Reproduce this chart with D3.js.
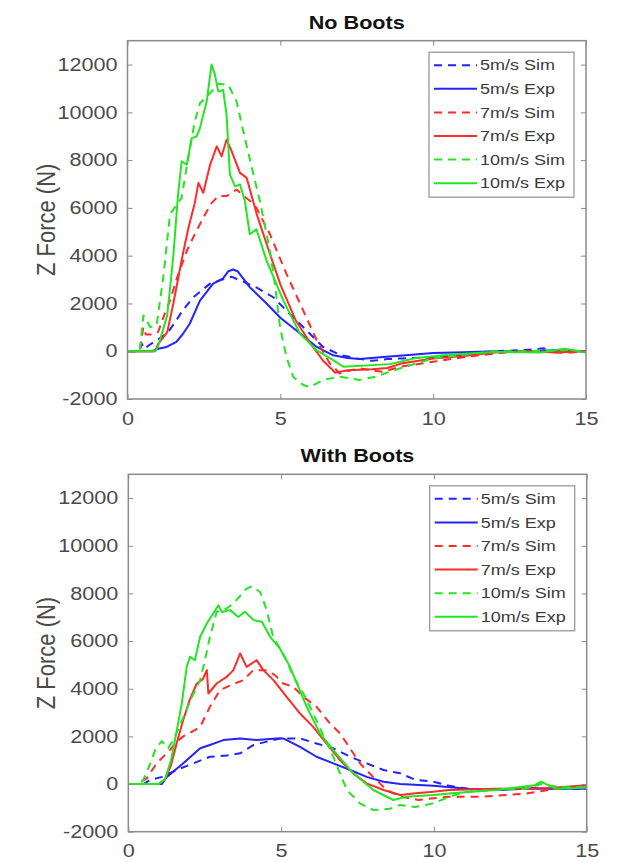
<!DOCTYPE html>
<html>
<head>
<meta charset="utf-8">
<script src="https://cdn.jsdelivr.net/npm/d3@7"></script>
<style>
  body { margin: 0; background: #fff; }
  svg { display: block; font-family: "Liberation Sans", Arial, sans-serif; }
</style>
</head>
<body>
<div id="chart"></div>
<script>
// axis ticks and labels
const xTicks = [0, 5, 10, 15];
const yTicks = [-2000, 0, 2000, 4000, 6000, 8000, 10000, 12000];
const legendLabels = ['5m/s Sim', '5m/s Exp', '7m/s Sim', '7m/s Exp', '10m/s Sim', '10m/s Exp'];
const panelTitles = ['No Boots', 'With Boots'];

// No Boots, [time, Z force]
const noBoots5Sim = [[0,0],[0.3,0],[0.42,100],[0.46,330],[0.55,100],[0.7,250],[1.0,500],[1.3,750],[1.6,1300],[1.8,1700],[2.15,2260],[2.7,2830],[3.1,3000],[3.4,3120],[3.8,2900],[4.23,2660],[4.77,2260],[5.2,1700],[5.86,870],[6.4,180],[6.95,-150],[7.5,-300],[8.0,-400],[8.5,-330],[9.0,-300],[10.0,-250],[11.0,-150],[12.0,0],[13.0,50],[13.6,120],[14.2,0],[15,0]];
const noBoots5Exp = [[0,0],[0.8,0],[1.0,100],[1.28,180],[1.6,390],[1.8,700],[2.04,1160],[2.37,2120],[2.8,2830],[3.12,3040],[3.3,3350],[3.45,3420],[3.6,3350],[4.0,2680],[4.55,2000],[5.0,1400],[5.64,750],[6.19,180],[6.73,-170],[7.2,-280],[7.6,-330],[8.36,-240],[9.0,-180],[10.0,-70],[11.0,-40],[12.0,0],[13.0,0],[14.0,40],[15,0]];
const noBoots7Sim = [[0,0],[0.4,0],[0.52,1010],[0.6,700],[0.8,700],[1.0,800],[1.2,1500],[1.39,2120],[1.6,3000],[1.94,4200],[2.2,4900],[2.48,5590],[2.75,6200],[2.97,6495],[3.24,6495],[3.57,6770],[3.8,6500],[4.0,6300],[4.22,6000],[4.66,4900],[5.2,3240],[5.75,1700],[6.19,460],[6.62,-510],[6.95,-930],[7.3,-800],[7.6,-720],[8.0,-800],[8.36,-860],[8.91,-650],[10.0,-440],[11.1,-230],[12.2,-70],[13.3,0],[14.4,-70],[15,0]];
const noBoots7Exp = [[0,0],[0.9,0],[1.0,300],[1.3,800],[1.5,2000],[1.8,4000],[2.0,5200],[2.2,6200],[2.32,7050],[2.48,6630],[2.7,7800],[2.92,8576],[3.08,8160],[3.24,8855],[3.4,8400],[3.68,7465],[3.9,7256],[4.23,5730],[4.6,4300],[5.0,2800],[5.5,1300],[6.0,300],[6.4,-400],[6.8,-900],[7.2,-800],[8.0,-750],[8.5,-700],[9.0,-500],[10.0,-300],[11.0,-200],[12.0,-50],[13.0,0],[14.0,-50],[15,0]];
const noBoots10Sim = [[0,0],[0.4,0],[0.52,1500],[0.74,1010],[0.95,1080],[1.17,3090],[1.39,5730],[1.77,6420],[2.0,8200],[2.2,9620],[2.37,10380],[2.7,10800],[2.97,11200],[3.3,11150],[3.57,10450],[3.84,8920],[4.12,7400],[4.33,6290],[4.66,4200],[4.82,2820],[4.99,1010],[5.2,-240],[5.42,-1070],[5.75,-1415],[5.97,-1500],[6.4,-1200],[6.95,-1070],[7.6,-1200],[8.1,-1070],[8.9,-720],[10.0,-300],[11.0,-150],[12.0,0],[13.0,0],[14.5,50],[15,-50]];
const noBoots10Exp = [[0,0],[0.9,0],[1.0,200],[1.3,1500],[1.5,4000],[1.65,6500],[1.77,7950],[1.94,7810],[2.1,8920],[2.26,8990],[2.37,9340],[2.59,10450],[2.75,12000],[2.86,11580],[2.97,10870],[3.13,10935],[3.24,9900],[3.35,7400],[3.52,6900],[3.68,6980],[3.84,6290],[4.0,4900],[4.22,5100],[4.55,3790],[5.1,2120],[5.64,740],[6.19,40],[6.73,-375],[7.06,-650],[8.59,-540],[9.4,-290],[10.5,-150],[12.0,-30],[13.5,-50],[14.3,100],[15,-50]];

// With Boots, [time, Z force]
const withBoots5Sim = [[0,0],[0.5,0],[0.71,170],[1.1,300],[1.58,590],[2.13,870],[2.67,1145],[3.22,1200],[3.66,1290],[4.09,1635],[4.53,1780],[4.96,1915],[5.62,1915],[6.16,1700],[6.71,1500],[7.26,1145],[7.8,870],[8.35,590],[8.9,450],[9.4,170],[9.98,100],[10.5,-70],[11.1,-200],[12.0,-250],[13.0,-150],[14.0,-200],[15,-200]];
const withBoots5Exp = [[0,0],[1.1,0],[1.26,300],[1.8,870],[2.35,1500],[2.67,1640],[3.11,1845],[3.66,1915],[4.2,1845],[4.85,1915],[5.07,1915],[5.62,1560],[6.16,1145],[6.71,870],[7.26,590],[7.8,300],[8.35,100],[8.9,0],[9.98,-70],[11.1,-200],[12.0,-250],[13.0,-200],[14.0,-200],[15,-200]];
const withBoots7Sim = [[0,0],[0.3,0],[0.6,240],[0.93,870],[1.36,1425],[1.6,1800],[1.8,2000],[2.18,2260],[2.35,2400],[2.67,3240],[3.0,3940],[3.44,4200],[3.76,4360],[4.09,4780],[4.53,4780],[4.8,4570],[5.07,4220],[5.4,4080],[5.73,3660],[6.16,3240],[6.6,2540],[6.93,2125],[7.15,1700],[7.58,870],[8.0,310],[8.46,-250],[8.9,-530],[9.5,-670],[9.98,-600],[10.5,-530],[11.6,-530],[12.5,-450],[13.0,-400],[14.0,-200],[15,-50]];
const withBoots7Exp = [[0,0],[1.0,0],[1.2,200],[1.4,800],[1.6,1800],[1.8,2700],[2.0,3500],[2.24,4220],[2.44,4400],[2.57,4780],[2.62,3800],[2.9,4230],[3.22,4500],[3.44,4780],[3.66,5480],[3.87,4920],[4.2,5200],[4.42,4780],[4.75,4360],[5.18,3660],[5.62,2960],[6.05,2400],[6.49,1700],[6.93,1000],[7.36,450],[7.8,30],[8.35,-250],[8.9,-460],[9.4,-390],[9.98,-320],[10.5,-250],[12.0,-200],[13.0,-200],[14.0,-150],[15,-50]];
const withBoots10Sim = [[0,0],[0.4,0],[0.5,200],[0.7,800],[0.9,1500],[1.1,1800],[1.3,1500],[1.5,1900],[1.8,2800],[2.1,3700],[2.35,4360],[2.51,5200],[2.67,6180],[2.89,7220],[3.22,7370],[3.44,7580],[3.66,7900],[3.87,8200],[4.05,8300],[4.31,8060],[4.53,7300],[4.74,6180],[5.18,5200],[5.4,4500],[5.73,3800],[6.05,2960],[6.71,1140],[7.15,-250],[7.58,-810],[8.02,-1090],[8.56,-1040],[8.89,-880],[9.4,-960],[9.98,-810],[10.5,-530],[11.1,-320],[12.0,-250],[13.0,-200],[13.5,0],[14.0,-100],[15,-150]];
const withBoots10Exp = [[0,0],[1.0,0],[1.2,200],[1.4,1000],[1.55,2000],[1.75,3380],[1.91,4920],[2.02,5340],[2.18,5200],[2.35,6180],[2.57,6740],[2.95,7500],[3.06,7220],[3.33,7300],[3.6,7010],[3.82,7230],[4.1,6880],[4.37,6810],[4.64,6180],[4.96,5690],[5.29,4920],[5.84,3240],[6.27,2125],[6.71,1425],[7.36,450],[8.02,-250],[8.67,-670],[9.1,-530],[9.98,-460],[10.6,-390],[12.0,-250],[13.3,-50],[13.5,100],[14.0,-200],[15,-150]];

const seriesColors = ['#2323ff', '#2323ff', '#ff2a2a', '#ff2a2a', '#22e622', '#22e622'];
const seriesDashed = [true, false, true, false, true, false];

const panels = [
    {title: panelTitles[0], data: [noBoots5Sim, noBoots5Exp, noBoots7Sim, noBoots7Exp, noBoots10Sim, noBoots10Exp],
     left: 127.5, right: 586, top: 40.7, bottom: 399},
    {title: panelTitles[1], data: [withBoots5Sim, withBoots5Exp, withBoots7Sim, withBoots7Exp, withBoots10Sim, withBoots10Exp],
     left: 128.3, right: 586.7, top: 474.3, bottom: 831.7}
];

// the source figure is a bit wider than tall, so text is stretched sideways
const stretch = 1.2;
function widen(sel) {
    sel.each(function() {
        const w = this.getComputedTextLength();
        d3.select(this)
            .attr('textLength', w * stretch)
            .attr('lengthAdjust', 'spacingAndGlyphs');
    });
}

const svg = d3.select('#chart').append('svg')
    .attr('width', 618)
    .attr('height', 862);

svg.append('rect').attr('width', 618).attr('height', 862).attr('fill', '#fff');

const axisColor = '#8a8a8a';
const labelColor = '#4a4a4a';

panels.forEach((p, pi) => {
    const x = d3.scaleLinear().domain([0, 15]).range([p.left, p.right]);
    const y = d3.scaleLinear().domain([-2000, 13000]).range([p.bottom, p.top]);
    const g = svg.append('g');

    // title
    g.append('text')
        .attr('x', (p.left + p.right) / 2)
        .attr('y', p.top - 12)
        .attr('text-anchor', 'middle')
        .style('font-size', '18px')
        .style('font-weight', 'bold')
        .style('fill', '#111')
        .text(p.title)
        .call(widen);

    // y label
    g.append('text')
        .attr('transform', `translate(55,${(p.top + p.bottom) / 2}) scale(${stretch},1) rotate(-90)`)
        .attr('text-anchor', 'middle')
        .style('font-size', '22px')
        .style('fill', labelColor)
        .text('Z Force (N)');

    // lines, clipped to the box
    const clipId = 'clip' + pi;
    g.append('clipPath').attr('id', clipId)
        .append('rect')
        .attr('x', p.left).attr('y', p.top)
        .attr('width', p.right - p.left).attr('height', p.bottom - p.top);

    const line = d3.line().x(d => x(d[0])).y(d => y(d[1]));
    const lines = g.append('g').attr('clip-path', `url(#${clipId})`);
    p.data.forEach((s, i) => {
        lines.append('path')
            .datum(s)
            .attr('d', line)
            .style('fill', 'none')
            .style('stroke', seriesColors[i])
            .style('stroke-width', 2)
            .style('stroke-linejoin', 'round')
            .style('stroke-dasharray', seriesDashed[i] ? '8,6' : null);
    });

    // axes, MATLAB style: inward ticks on all four sides
    const styleAxis = sel => {
        sel.select('.domain').remove();
        sel.selectAll('.tick line').attr('stroke', axisColor);
        sel.selectAll('.tick text')
            .style('font-size', '18px')
            .style('fill', labelColor)
            .style('font-family', '"Liberation Sans", Arial, sans-serif')
            .call(widen);
    };

    g.append('g')
        .attr('transform', `translate(0,${p.bottom})`)
        .call(d3.axisBottom(x).tickValues(xTicks).tickSize(-5).tickPadding(13).tickFormat(d => String(d)))
        .call(styleAxis);
    g.append('g')
        .attr('transform', `translate(0,${p.top})`)
        .call(d3.axisTop(x).tickValues(xTicks).tickSize(-5).tickFormat(''))
        .call(styleAxis);
    g.append('g')
        .attr('transform', `translate(${p.left},0)`)
        .call(d3.axisLeft(y).tickValues(yTicks).tickSize(-5).tickPadding(10).tickFormat(d => String(d)))
        .call(styleAxis);
    g.append('g')
        .attr('transform', `translate(${p.right},0)`)
        .call(d3.axisRight(y).tickValues(yTicks).tickSize(-5).tickFormat(''))
        .call(styleAxis);

    g.append('rect')
        .attr('x', p.left).attr('y', p.top)
        .attr('width', p.right - p.left).attr('height', p.bottom - p.top)
        .style('fill', 'none')
        .style('stroke', axisColor)
        .style('stroke-width', 1.5);

    // legend
    const lg = g.append('g').attr('transform', `translate(${p.right - 157},${p.top + 11.5})`);
    lg.append('rect')
        .attr('width', 145).attr('height', 145)
        .style('fill', '#fff')
        .style('stroke', '#9a9a9a')
        .style('stroke-width', 1.3);
    legendLabels.forEach((lab, i) => {
        const ry = 13 + i * 23.6;
        lg.append('line')
            .attr('x1', 5).attr('x2', 48)
            .attr('y1', ry).attr('y2', ry)
            .style('stroke', seriesColors[i])
            .style('stroke-width', 2)
            .style('stroke-dasharray', seriesDashed[i] ? '8,6' : null);
        lg.append('text')
            .attr('x', 51).attr('y', ry)
            .attr('dy', '0.35em')
            .style('font-size', '15px')
            .style('fill', '#3a3a3a')
            .text(lab)
            .call(widen);
    });
});
</script>
</body>
</html>
